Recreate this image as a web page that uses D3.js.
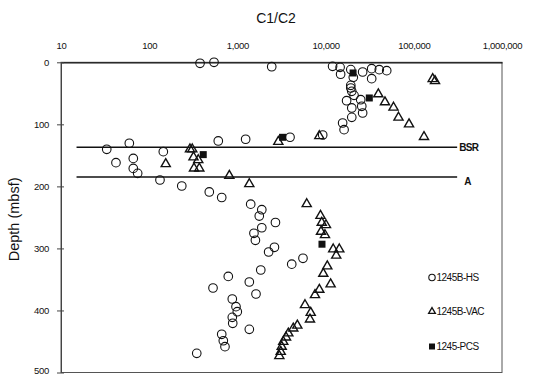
<!DOCTYPE html>
<html>
<head>
<meta charset="utf-8">
<script src="https://cdn.jsdelivr.net/npm/d3@7"></script>
<style>
  body { margin: 0; background: #fff; }
  svg { display: block; font-family: "Liberation Sans", Arial, sans-serif; }
</style>
</head>
<body>
<div id="chart"></div>
<script>
// C1/C2 ratio vs depth, hole 1245
const xTicks = [10, 100, 1000, 10000, 100000, 1000000];
const yTicks = [0, 100, 200, 300, 400, 500];

// 1245B-HS (headspace)
const hsRatio = [377, 543, 2450, 12000, 14600, 14800, 19300, 26300, 33300, 33300, 40600, 49300,
  20600, 19300, 19300, 19800, 21000, 17300, 19800, 19800, 25000, 25700, 26300, 15600, 16200,
  9270, 3950, 1240, 607, 59.5, 33, 144.5, 42, 66, 66, 74, 132.5, 234, 480, 664, 1415, 1890,
  1770, 1890, 2700, 1540, 1600, 2630, 2260, 5540, 4130, 1840, 788, 1365, 529, 1625, 875, 964,
  997, 875, 885, 1365, 664, 692, 723, 346];
const hsDepth = [1.6, 0, 7.1, 6.5, 8.1, 19.2, 11.8, 15.6, 10.3, 26.4, 11.9, 13.5,
  24.2, 37.1, 41.4, 46.8, 53.2, 61.9, 73.6, 88.7, 60.3, 70.9, 81.7, 97.8, 108.6,
  117.2, 120.8, 124, 126.8, 130.5, 140.2, 144, 161.8, 154.9, 171, 179, 189.7, 199.4, 209, 217.9, 228.7, 237.6,
  247.8, 266.7, 258.2, 275.6, 286.9, 298.2, 305.8, 315.9, 325.4, 334.8, 345.1, 354.1, 363.8, 373.5, 381.5, 393.9,
  402, 411.1, 420.7, 430.4, 438.4, 448.8, 458.4, 469.1];

// 1245B-VAC (void gas)
const vacRatio = [163700, 174000, 39600, 47100, 58900, 67100, 88300, 130500, 8490, 2910,
  154, 290, 308, 318, 360, 322, 370, 810, 1365, 6110, 8750, 9040, 10100, 8870, 9840,
  12200, 14300, 13200, 10450, 9420, 11400, 8490, 7580, 5840, 6780, 6650, 4780, 4300,
  3780, 3560, 3310, 3180, 3100, 2990];
const vacDepth = [26.9, 30.1, 51.4, 64.3, 72.9, 89, 99.8, 120.1, 118.8, 128,
  163.9, 140.2, 140.2, 153.1, 157.5, 170.9, 170.9, 182.8, 196.2, 228.4, 247.3, 258.5, 262.3, 273, 278.4,
  301.4, 301.4, 311.4, 328.7, 340.7, 357.7, 366.5, 375, 391.2, 403.6, 414.3, 424.2, 428.8,
  436.8, 443.3, 450.4, 458.4, 466.5, 473.4];

// 1245-PCS (pressure core sampler)
const pcsRatio = [20500, 31300, 3250, 410, 9100];
const pcsDepth = [17.2, 57.5, 120.9, 148.8, 293.2];

// reflector lines
const reflectors = ["BSR", "A"];
const reflectorDepth = [137, 185];
const reflectorRange = [15, 310000];

const legendNames = ["1245B-HS", "1245B-VAC", "1245-PCS"];

const width = 535, height = 376;
const margin = {top: 62.3, right: 33, bottom: 3.5, left: 61};

const svg = d3.select("#chart").append("svg")
  .attr("width", width)
  .attr("height", height);

const x = d3.scaleLog()
  .domain([10, 1000000])
  .range([margin.left, width - margin.right]);

const y = d3.scaleLinear()
  .domain([0, 500])
  .range([margin.top, height - margin.bottom]);

// frame
svg.append("rect")
  .attr("x", x(10)).attr("y", y(0))
  .attr("width", x(1000000) - x(10)).attr("height", y(500) - y(0))
  .attr("fill", "none").attr("stroke", "#555").attr("stroke-width", 1);

// top axis
const xAxis = svg.append("g")
  .attr("transform", `translate(0,${y(0)})`)
  .call(d3.axisTop(x).tickValues(xTicks).tickFormat(d3.format(",")).tickSize(0).tickPadding(13));
xAxis.select(".domain").attr("stroke", "#111").attr("stroke-width", 1.3);
xAxis.selectAll("text").attr("font-size", 9.5).attr("fill", "#111").attr("font-family", null)
  .attr("letter-spacing", -0.3);

// left axis
const yAxis = svg.append("g")
  .attr("transform", `translate(${x(10)},0)`)
  .call(d3.axisLeft(y).tickValues(yTicks).tickSizeInner(4).tickSizeOuter(0).tickPadding(8));
yAxis.select(".domain").attr("stroke", "#444");
yAxis.selectAll(".tick line").attr("stroke", "#444").attr("x2", 3).attr("x1", -4);
yAxis.selectAll("text").attr("font-size", 9.5).attr("fill", "#111").attr("font-family", null)
  .attr("letter-spacing", -0.3)
  .attr("dy", d => d === 500 ? "0.1em" : "0.32em");

// titles
svg.append("text")
  .attr("x", 276).attr("y", 23)
  .attr("text-anchor", "middle")
  .attr("font-size", 14).attr("fill", "#111")
  .text("C1/C2");

svg.append("text")
  .attr("transform", `translate(19,${(y(0) + y(500)) / 2 + 2}) rotate(-90)`)
  .attr("text-anchor", "middle")
  .attr("font-size", 14.5).attr("fill", "#111")
  .text("Depth (mbsf)");

// BSR / A lines
reflectors.forEach((name, i) => {
  svg.append("line")
    .attr("x1", x(reflectorRange[0])).attr("x2", x(reflectorRange[1]))
    .attr("y1", y(reflectorDepth[i])).attr("y2", y(reflectorDepth[i]))
    .attr("stroke", "#111").attr("stroke-width", 1.5);
  svg.append("text")
    .attr("x", x(reflectorRange[1]) + (i === 0 ? 2 : 7))
    .attr("y", y(reflectorDepth[i]) + (i === 0 ? 3.5 : 8))
    .attr("font-size", 10).attr("font-weight", "bold").attr("fill", "#111")
    .attr("letter-spacing", -0.6)
    .text(name);
});

const tri = d3.symbol().type(d3.symbolTriangle).size(36);

// HS circles
svg.append("g").selectAll("circle")
  .data(d3.zip(hsRatio, hsDepth))
  .join("circle")
  .attr("cx", d => x(d[0]))
  .attr("cy", d => y(d[1]))
  .attr("r", 4.3)
  .attr("fill", "none").attr("stroke", "#111").attr("stroke-width", 1.1);

// VAC triangles
svg.append("g").selectAll("path")
  .data(d3.zip(vacRatio, vacDepth))
  .join("path")
  .attr("d", tri)
  .attr("transform", d => `translate(${x(d[0])},${y(d[1])})`)
  .attr("fill", "none").attr("stroke", "#111").attr("stroke-width", 1.4);

// PCS squares
svg.append("g").selectAll("rect")
  .data(d3.zip(pcsRatio, pcsDepth))
  .join("rect")
  .attr("x", d => x(d[0]) - 3.5)
  .attr("y", d => y(d[1]) - 3.5)
  .attr("width", 7).attr("height", 7)
  .attr("fill", "#111");

// legend
const legendY = [277.5, 311.5, 346.5];
const lg = svg.append("g");
legendNames.forEach((name, i) => {
  const cy = legendY[i], cx = 432;
  if (i === 0) {
    lg.append("circle").attr("cx", cx).attr("cy", cy).attr("r", 3.2)
      .attr("fill", "none").attr("stroke", "#111").attr("stroke-width", 1.1);
  } else if (i === 1) {
    lg.append("path").attr("d", d3.symbol().type(d3.symbolTriangle).size(20))
      .attr("transform", `translate(${cx},${cy})`)
      .attr("fill", "none").attr("stroke", "#111").attr("stroke-width", 1.3);
  } else {
    lg.append("rect").attr("x", cx - 3).attr("y", cy - 3).attr("width", 6).attr("height", 6)
      .attr("fill", "#111");
  }
  lg.append("text")
    .attr("x", cx + 4.5).attr("y", cy + 3.5)
    .attr("font-size", 10).attr("fill", "#111")
    .attr("letter-spacing", -0.5)
    .text(name);
});
</script>
</body>
</html>
